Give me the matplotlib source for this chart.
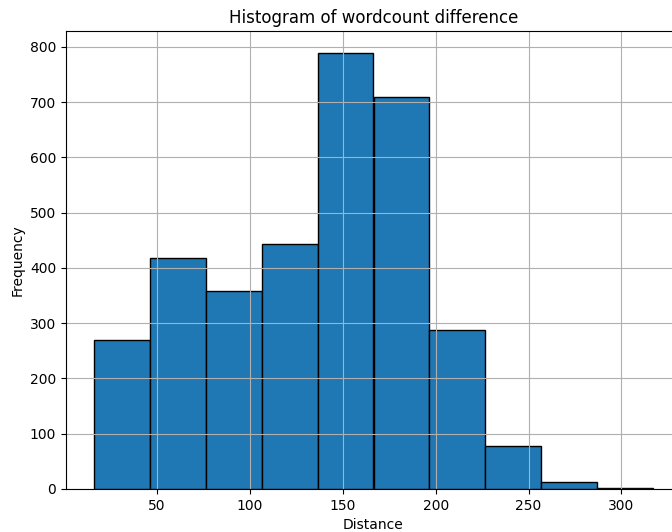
import numpy as np
import matplotlib
matplotlib.use('Agg')
import matplotlib.pyplot as plt

# bin edges and counts
bin_edges = [16.0, 46.1, 76.2, 106.3, 136.4, 166.5, 196.6, 226.7, 256.8, 286.9, 317.0]
counts = [270, 417, 358, 444, 789, 709, 288, 78, 13, 2]

fig = plt.figure(figsize=(6.72, 5.32), dpi=100)
# axes runs a bit past the right edge, like the cropped original
ax = fig.add_axes([66 / 672, 1 - 489 / 532, (681 - 66) / 672, (489 - 31) / 532])

ax.hist(bin_edges[:-1], bins=bin_edges, weights=counts, edgecolor='black')
ax.set_title('Histogram of wordcount difference')
ax.set_xlabel('Distance')
ax.set_ylabel('Frequency')
ax.grid(True)

fig.savefig('out.png', dpi=100)
